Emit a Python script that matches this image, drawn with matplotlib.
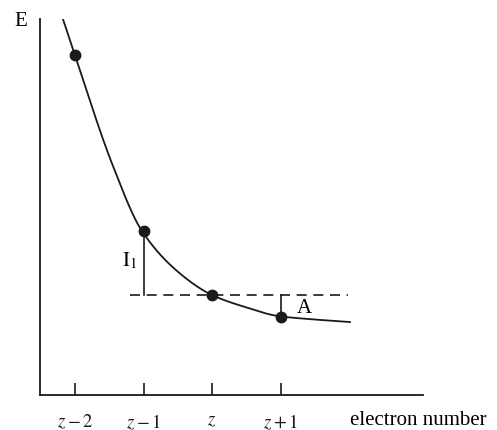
import numpy as np
from matplotlib import pyplot as plt

plt.rcParams['font.family'] = ['Liberation Serif', 'DejaVu Serif']
plt.rcParams['mathtext.fontset'] = 'stix'

# electron number relative to z, and energy (arbitrary units)
point_n = [-2, -1, 0, 1]
point_e = [3.40, 1.64, 1.00, 0.785]
tick_labels = ["$z-2$", "$z-1$", "$z$", "$z+1$"]

# points along the drawn curve
curve_n = [-2.175, -2.029, -1.445, -1.022, -0.423, 0.0, 0.482, 0.964, 1.504, 2.015]
curve_e = [3.76, 3.46, 2.29, 1.64, 1.19, 1.00, 0.88, 0.79, 0.755, 0.73]

dash_start, dash_end = -1.20, 1.99


def pchip(xs, ys, steps=30):
    """Monotone cubic through the read points (Fritsch-Carlson)"""
    x = np.asarray(xs, float)
    y = np.asarray(ys, float)
    h = np.diff(x)
    d = np.diff(y) / h
    m = np.zeros_like(y)
    for i in range(1, len(x) - 1):
        if d[i - 1] * d[i] > 0:
            w1 = 2 * h[i] + h[i - 1]
            w2 = h[i] + 2 * h[i - 1]
            m[i] = (w1 + w2) / (w1 / d[i - 1] + w2 / d[i])
    m[0] = d[0]
    m[-1] = d[-1]
    ox, oy = [], []
    for i in range(len(h)):
        t = np.linspace(0, 1, steps, endpoint=False)
        h00 = 2 * t ** 3 - 3 * t ** 2 + 1
        h10 = t ** 3 - 2 * t ** 2 + t
        h01 = -2 * t ** 3 + 3 * t ** 2
        h11 = t ** 3 - t ** 2
        ox.append(x[i] + t * h[i])
        oy.append(h00 * y[i] + h10 * h[i] * m[i] + h01 * y[i + 1] + h11 * h[i] * m[i + 1])
    ox.append([x[-1]])
    oy.append([y[-1]])
    return np.concatenate(ox), np.concatenate(oy)


ink = '#1a1a1a'

fig = plt.figure(figsize=(4.97, 4.31), dpi=100)
ax = fig.add_axes([0.0805, 0.0812, 0.771, 0.872])

cx, cy = pchip(curve_n, curve_e)
ax.plot(cx, cy, color=ink, lw=1.3, solid_capstyle='round')
ax.plot(point_n, point_e, 'o', color=ink, ms=7.5)

# dashed reference level at E(z)
ax.plot([dash_start, dash_end], [point_e[2], point_e[2]], color=ink,
        lw=1.2, dashes=(6, 4))

# ionisation energy I1 and electron affinity A
ax.plot([point_n[1], point_n[1]], [point_e[1], point_e[2]], color=ink, lw=1.2)
ax.plot([point_n[3], point_n[3]], [point_e[2], point_e[3]], color=ink, lw=1.2)
ax.text(-1.20, 1.35, r"$\mathrm{I}_1$", ha='center', va='center', fontsize=15)
ax.text(1.34, 0.88, "A", ha='center', va='center', fontsize=15)

ax.set_xlim(-2.51, 3.08)
ax.set_ylim(0, 3.76)
ax.spines['top'].set_visible(False)
ax.spines['right'].set_visible(False)
for s in ('left', 'bottom'):
    ax.spines[s].set_linewidth(1.3)
    ax.spines[s].set_color(ink)

ax.set_xticks(point_n)
ax.set_xticklabels(tick_labels, fontsize=13.5)
ax.set_yticks([])
ax.tick_params(axis='x', direction='in', length=9, width=1.2, pad=12, colors=ink)

fig.text(21 / 497, 1 - 22 / 431, "E", ha='center', va='center', fontsize=15)
fig.text(350 / 497, 1 - 421 / 431, "electron number", ha='left', va='center', fontsize=15)

fig.savefig("out.png", dpi=100)
